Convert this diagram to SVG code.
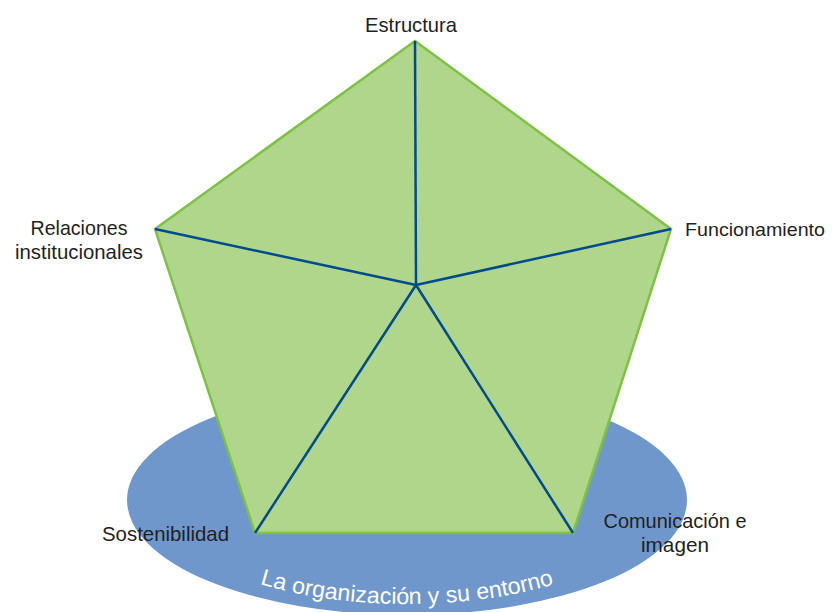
<svg xmlns="http://www.w3.org/2000/svg" width="832" height="612" viewBox="0 0 832 612">
<style>
.lbl{font-family:"Liberation Sans",Arial,sans-serif;font-size:21px;fill:#231f20;}
.spoke{stroke:#004b8d;stroke-width:2.5;fill:none;}
</style>
<defs>
<path id="arc" d="M 157,500 A 250 104 0 0 0 657,500"/>
</defs>
<rect width="832" height="612" fill="#ffffff"/>
<g id="ellipse">
<ellipse cx="407" cy="500" rx="280" ry="115" fill="#6f97cc"/>
<text font-family="'Liberation Sans',Arial,sans-serif" font-size="23" fill="#ffffff"><textPath href="#arc" startOffset="50%" text-anchor="middle" textLength="298" lengthAdjust="spacingAndGlyphs">La organización y su entorno</textPath></text>
</g>
<g id="pentagon">
<polygon points="415,41 671,229 573,533 255,533 155,229" fill="#b0d68c" stroke="#7dc242" stroke-width="2.5" stroke-linejoin="miter"/>
</g>
<g id="connectors">
<line class="spoke" x1="416" y1="285" x2="415" y2="41"/>
<line class="spoke" x1="416" y1="285" x2="671" y2="229"/>
<line class="spoke" x1="416" y1="285" x2="573" y2="533"/>
<line class="spoke" x1="416" y1="285" x2="255" y2="533"/>
<line class="spoke" x1="416" y1="285" x2="155" y2="229"/>
</g>
<g id="estructura"><text class="lbl" x="411" y="32" text-anchor="middle" textLength="92" lengthAdjust="spacingAndGlyphs">Estructura</text></g>
<g id="funcionamiento"><text class="lbl" x="685" y="236" font-size="19" textLength="140" lengthAdjust="spacingAndGlyphs" style="font-size:19px">Funcionamiento</text></g>
<g id="relaciones">
<text class="lbl" x="79" y="235" text-anchor="middle" textLength="97" lengthAdjust="spacingAndGlyphs">Relaciones</text>
<text class="lbl" x="79" y="259" text-anchor="middle" textLength="128" lengthAdjust="spacingAndGlyphs">institucionales</text>
</g>
<g id="sostenibilidad"><text class="lbl" x="102" y="541" textLength="127" lengthAdjust="spacingAndGlyphs">Sostenibilidad</text></g>
<g id="comunicacion">
<text class="lbl" x="675" y="528" text-anchor="middle" textLength="143" lengthAdjust="spacingAndGlyphs">Comunicación e</text>
<text class="lbl" x="675" y="552" text-anchor="middle" textLength="68" lengthAdjust="spacingAndGlyphs">imagen</text>
</g>
</svg>
